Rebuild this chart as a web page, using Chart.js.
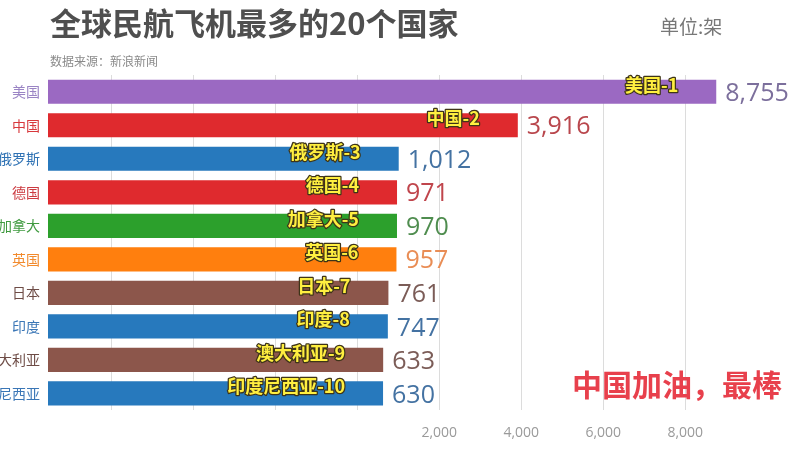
<!DOCTYPE html>
<html>
<head>
<meta charset="utf-8">
<script src="https://cdn.jsdelivr.net/npm/chart.js@4/dist/chart.umd.min.js"></script>
<style>
  html, body { margin: 0; padding: 0; background: #ffffff; }
  #wrap { width: 800px; height: 450px; position: relative; }
</style>
</head>
<body>
<div id="wrap"><canvas id="c" width="800" height="450"></canvas></div>
<script>
const countries = ['美国','中国','俄罗斯','德国','加拿大','英国','日本','印度','澳大利亚','印度尼西亚'];
const values = [8755, 3916, 1012, 971, 970, 957, 761, 747, 633, 630];
const ranks = [1, 2, 3, 4, 5, 6, 7, 8, 9, 10];
const barColors = ['#9B69C2','#DF2A2E','#2779BD','#DF2A2E','#2CA02C','#FF7F0E','#8C564B','#2779BD','#8C564B','#2779BD'];
const nameColors = ['#9a84c4','#d8383c','#2f72b4','#cc3a40','#3f9a3f','#f28a2c','#6e4c46','#3a76b6','#6e4c46','#3a76b6'];
const valueColors = ['#7c6f9c','#b9474d','#4472a2','#c0454c','#4f8d4f','#e98d55','#7b5c57','#4472a2','#7b5c57','#4472a2'];
const tickValues = [-6000, -4000, -2000, 0, 2000, 4000, 6000, 8000];
const axisMin = -7540;
const axisMax = 9700;

const CJK = '"Noto Sans CJK SC", "Noto Sans", sans-serif';

const textPlugin = {
  id: 'texts',
  afterDatasetsDraw(chart) {
    const ctx = chart.ctx;
    const meta = chart.getDatasetMeta(0);
    ctx.save();
    meta.data.forEach((bar, i) => {
      const label = countries[i] + '-' + ranks[i];
      ctx.font = 'bold 18px ' + CJK;
      ctx.textAlign = 'right';
      ctx.textBaseline = 'middle';
      ctx.lineJoin = 'round';
      ctx.lineWidth = 2.5;
      ctx.strokeStyle = '#3e3418';
      const tx = bar.x - 38, ty = bar.y - 7;
      ctx.strokeText(label, tx, ty);
      ctx.fillStyle = '#FFEF40';
      ctx.fillText(label, tx, ty);
      ctx.font = '25px "Open Sans", "DejaVu Sans", sans-serif';
      ctx.textAlign = 'left';
      ctx.fillStyle = valueColors[i];
      ctx.fillText(values[i].toLocaleString('en-US'), bar.x + 9, bar.y + 2);
    });
    ctx.textBaseline = 'middle';
    ctx.textAlign = 'left';
    ctx.fillStyle = '#4f4f4f';
    ctx.font = 'bold 31px ' + CJK;
    ctx.fillText('全球民航飞机最多的20个国家', 50, 23);
    ctx.fillStyle = '#8a8a8a';
    ctx.font = '12px ' + CJK;
    ctx.fillText('数据来源：新浪新闻', 50, 61);
    ctx.fillStyle = '#777777';
    ctx.font = '19px ' + CJK;
    ctx.fillText('单位:架', 660, 27);
    ctx.fillStyle = '#E8404C';
    ctx.font = 'bold 30px ' + CJK;
    ctx.fillText('中国加油，最棒', 572, 385);
    ctx.restore();
  }
};

new Chart(document.getElementById('c'), {
  type: 'bar',
  data: {
    labels: countries,
    datasets: [{
      data: values,
      base: axisMin,
      backgroundColor: barColors,
      borderWidth: 0,
      categoryPercentage: 0.72,
      barPercentage: 1.0
    }]
  },
  options: {
    indexAxis: 'y',
    responsive: false,
    animation: false,
    layout: { padding: { top: 75, right: 45, bottom: -5, left: 0 } },
    plugins: { legend: { display: false }, tooltip: { enabled: false } },
    scales: {
      x: {
        min: axisMin,
        max: axisMax,
        afterBuildTicks(scale) { scale.ticks = tickValues.map(v => ({ value: v })); },
        grid: { color: '#dcdcdc', drawTicks: false, lineWidth: 1 },
        border: { display: false },
        ticks: {
          padding: 14,
          color: '#9a9a9a',
          font: { size: 14, family: '"Open Sans", sans-serif' },
          callback: (v) => v > 0 ? v.toLocaleString('en-US') : ''
        }
      },
      y: {
        grid: { display: false, drawTicks: false },
        border: { display: false },
        afterFit(scale) { scale.width = 48; },
        ticks: {
          padding: 8,
          color: nameColors,
          font: { size: 14, family: CJK }
        }
      }
    }
  },
  plugins: [textPlugin]
});
</script>
</body>
</html>
